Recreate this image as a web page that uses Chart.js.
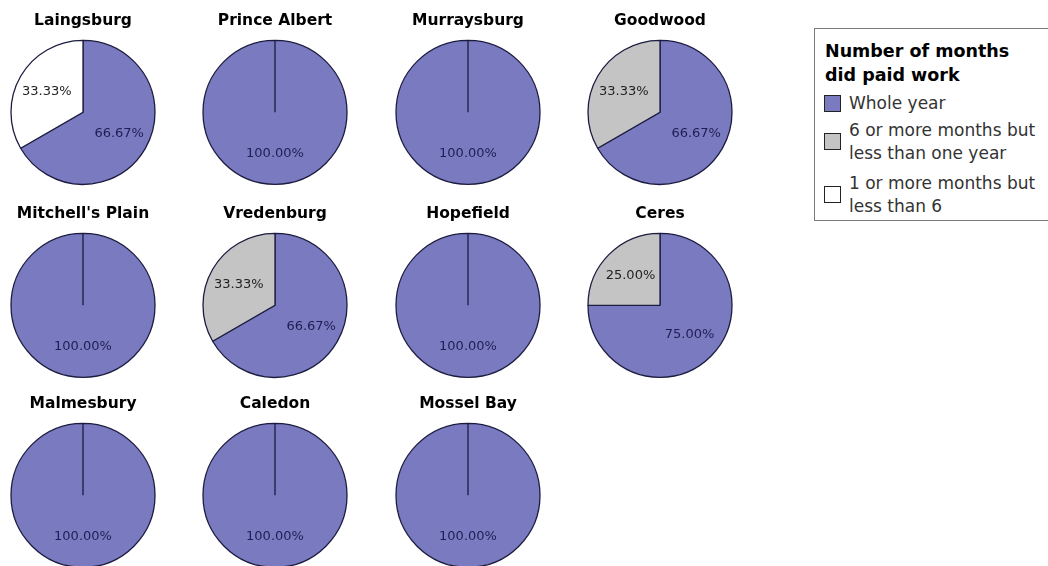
<!DOCTYPE html>
<html>
<head>
<meta charset="utf-8">
<script src="https://cdn.jsdelivr.net/npm/chart.js@4/dist/chart.umd.min.js"></script>
<style>
  html, body { margin: 0; padding: 0; background: #fff; }
  body { width: 1048px; height: 566px; overflow: hidden; position: relative; font-family: "DejaVu Sans", sans-serif; }
  canvas.pie { position: absolute; }
  #legend { position: absolute; left: 814px; top: 28px; width: 240px; height: 193px; border: 1px solid #7a7a7a; box-sizing: border-box; }
  #legend .ttl { position: absolute; left: 10px; font-weight: bold; font-size: 17.5px; color: #000; white-space: nowrap; line-height: 24px; }
  #legend .sw { position: absolute; left: 9px; width: 17px; height: 17px; border: 1px solid #222; box-sizing: border-box; }
  #legend .it { position: absolute; left: 34px; font-size: 17px; color: #333; line-height: 23px; white-space: nowrap; }
</style>
</head>
<body>
<div id="legend"></div>
<script>
// ---- data ----
const cities = ["Laingsburg", "Prince Albert", "Murraysburg", "Goodwood",
                "Mitchell's Plain", "Vredenburg", "Hopefield", "Ceres",
                "Malmesbury", "Caledon", "Mossel Bay"];
const seriesLabels = ["Whole year", "6 or more months but less than one year", "1 or more months but less than 6"];
const legendTitle = ["Number of months", "did paid work"];
const wholeYear   = [66.67, 100, 100, 66.67, 100, 66.67, 100, 75, 100, 100, 100];
const sixToYear   = [0, 0, 0, 33.33, 0, 33.33, 0, 25, 0, 0, 0];
const oneToSix    = [33.33, 0, 0, 0, 0, 0, 0, 0, 0, 0, 0];
const seriesColors = ["#7a7ac0", "#c4c4c4", "#ffffff"];
const labelColors  = ["#1e1e55", "#222222", "#222222"];

// ---- layout ----
const colCenters = [82.5, 275, 467.5, 660];
const rowCenters = [111, 304, 494];
const W = 190, H = 180;

const labelPlugin = {
  id: 'sliceLabels',
  afterDatasetsDraw(chart) {
    const ctx = chart.ctx;
    const meta = chart.getDatasetMeta(0);
    const data = chart.data.datasets[0].data;
    ctx.save();
    ctx.font = '13px "DejaVu Sans", sans-serif';
    ctx.textAlign = 'center';
    ctx.textBaseline = 'middle';
    meta.data.forEach((arc, i) => {
      if (!data[i]) return;
      const p = arc.getProps(['x', 'y', 'startAngle', 'endAngle', 'outerRadius'], true);
      const mid = (p.startAngle + p.endAngle) / 2;
      const r = p.outerRadius * 0.58;
      ctx.fillStyle = labelColors[i];
      ctx.fillText(data[i].toFixed(2) + '%', p.x + Math.cos(mid) * r, p.y + Math.sin(mid) * r);
    });
    ctx.restore();
  }
};

cities.forEach((city, idx) => {
  const col = idx % 4, row = Math.floor(idx / 4);
  const cv = document.createElement('canvas');
  cv.className = 'pie';
  cv.width = W; cv.height = H;
  cv.style.width = W + 'px'; cv.style.height = H + 'px';
  cv.style.left = (colCenters[col] - W / 2) + 'px';
  cv.style.top = (rowCenters[row] - 105.4) + 'px';
  document.body.appendChild(cv);
  new Chart(cv, {
    type: 'pie',
    data: {
      labels: seriesLabels,
      datasets: [{
        data: [wholeYear[idx], sixToYear[idx], oneToSix[idx]],
        backgroundColor: seriesColors,
        borderColor: '#1c1c40',
        borderWidth: 1.3
      }]
    },
    options: {
      responsive: false,
      animation: false,
      devicePixelRatio: 1,
      radius: 72,
      layout: { padding: 0 },
      plugins: {
        legend: { display: false },
        tooltip: { enabled: false },
        title: {
          display: true,
          text: city,
          color: '#000',
          font: { family: '"DejaVu Sans", sans-serif', size: 15.5, weight: 'bold', lineHeight: 1.2 },
          padding: { top: 6, bottom: 8 }
        }
      }
    },
    plugins: [labelPlugin]
  });
});

// ---- legend (HTML text) ----
const lg = document.getElementById('legend');
legendTitle.forEach((t, i) => {
  const d = document.createElement('div');
  d.className = 'ttl'; d.textContent = t; d.style.top = (10 + i * 24) + 'px';
  lg.appendChild(d);
});
const itemLines = [["Whole year"], ["6 or more months but", "less than one year"], ["1 or more months but", "less than 6"]];
const itemTops = [63, 90, 143];
itemLines.forEach((lines, i) => {
  const sw = document.createElement('div');
  sw.className = 'sw';
  sw.style.background = seriesColors[i];
  sw.style.top = (lines.length === 1 ? itemTops[i] + 3 : itemTops[i] + 14) + 'px';
  lg.appendChild(sw);
  const it = document.createElement('div');
  it.className = 'it';
  it.style.top = itemTops[i] + 'px';
  it.innerHTML = lines.join('<br>');
  lg.appendChild(it);
});
</script>
</body>
</html>
